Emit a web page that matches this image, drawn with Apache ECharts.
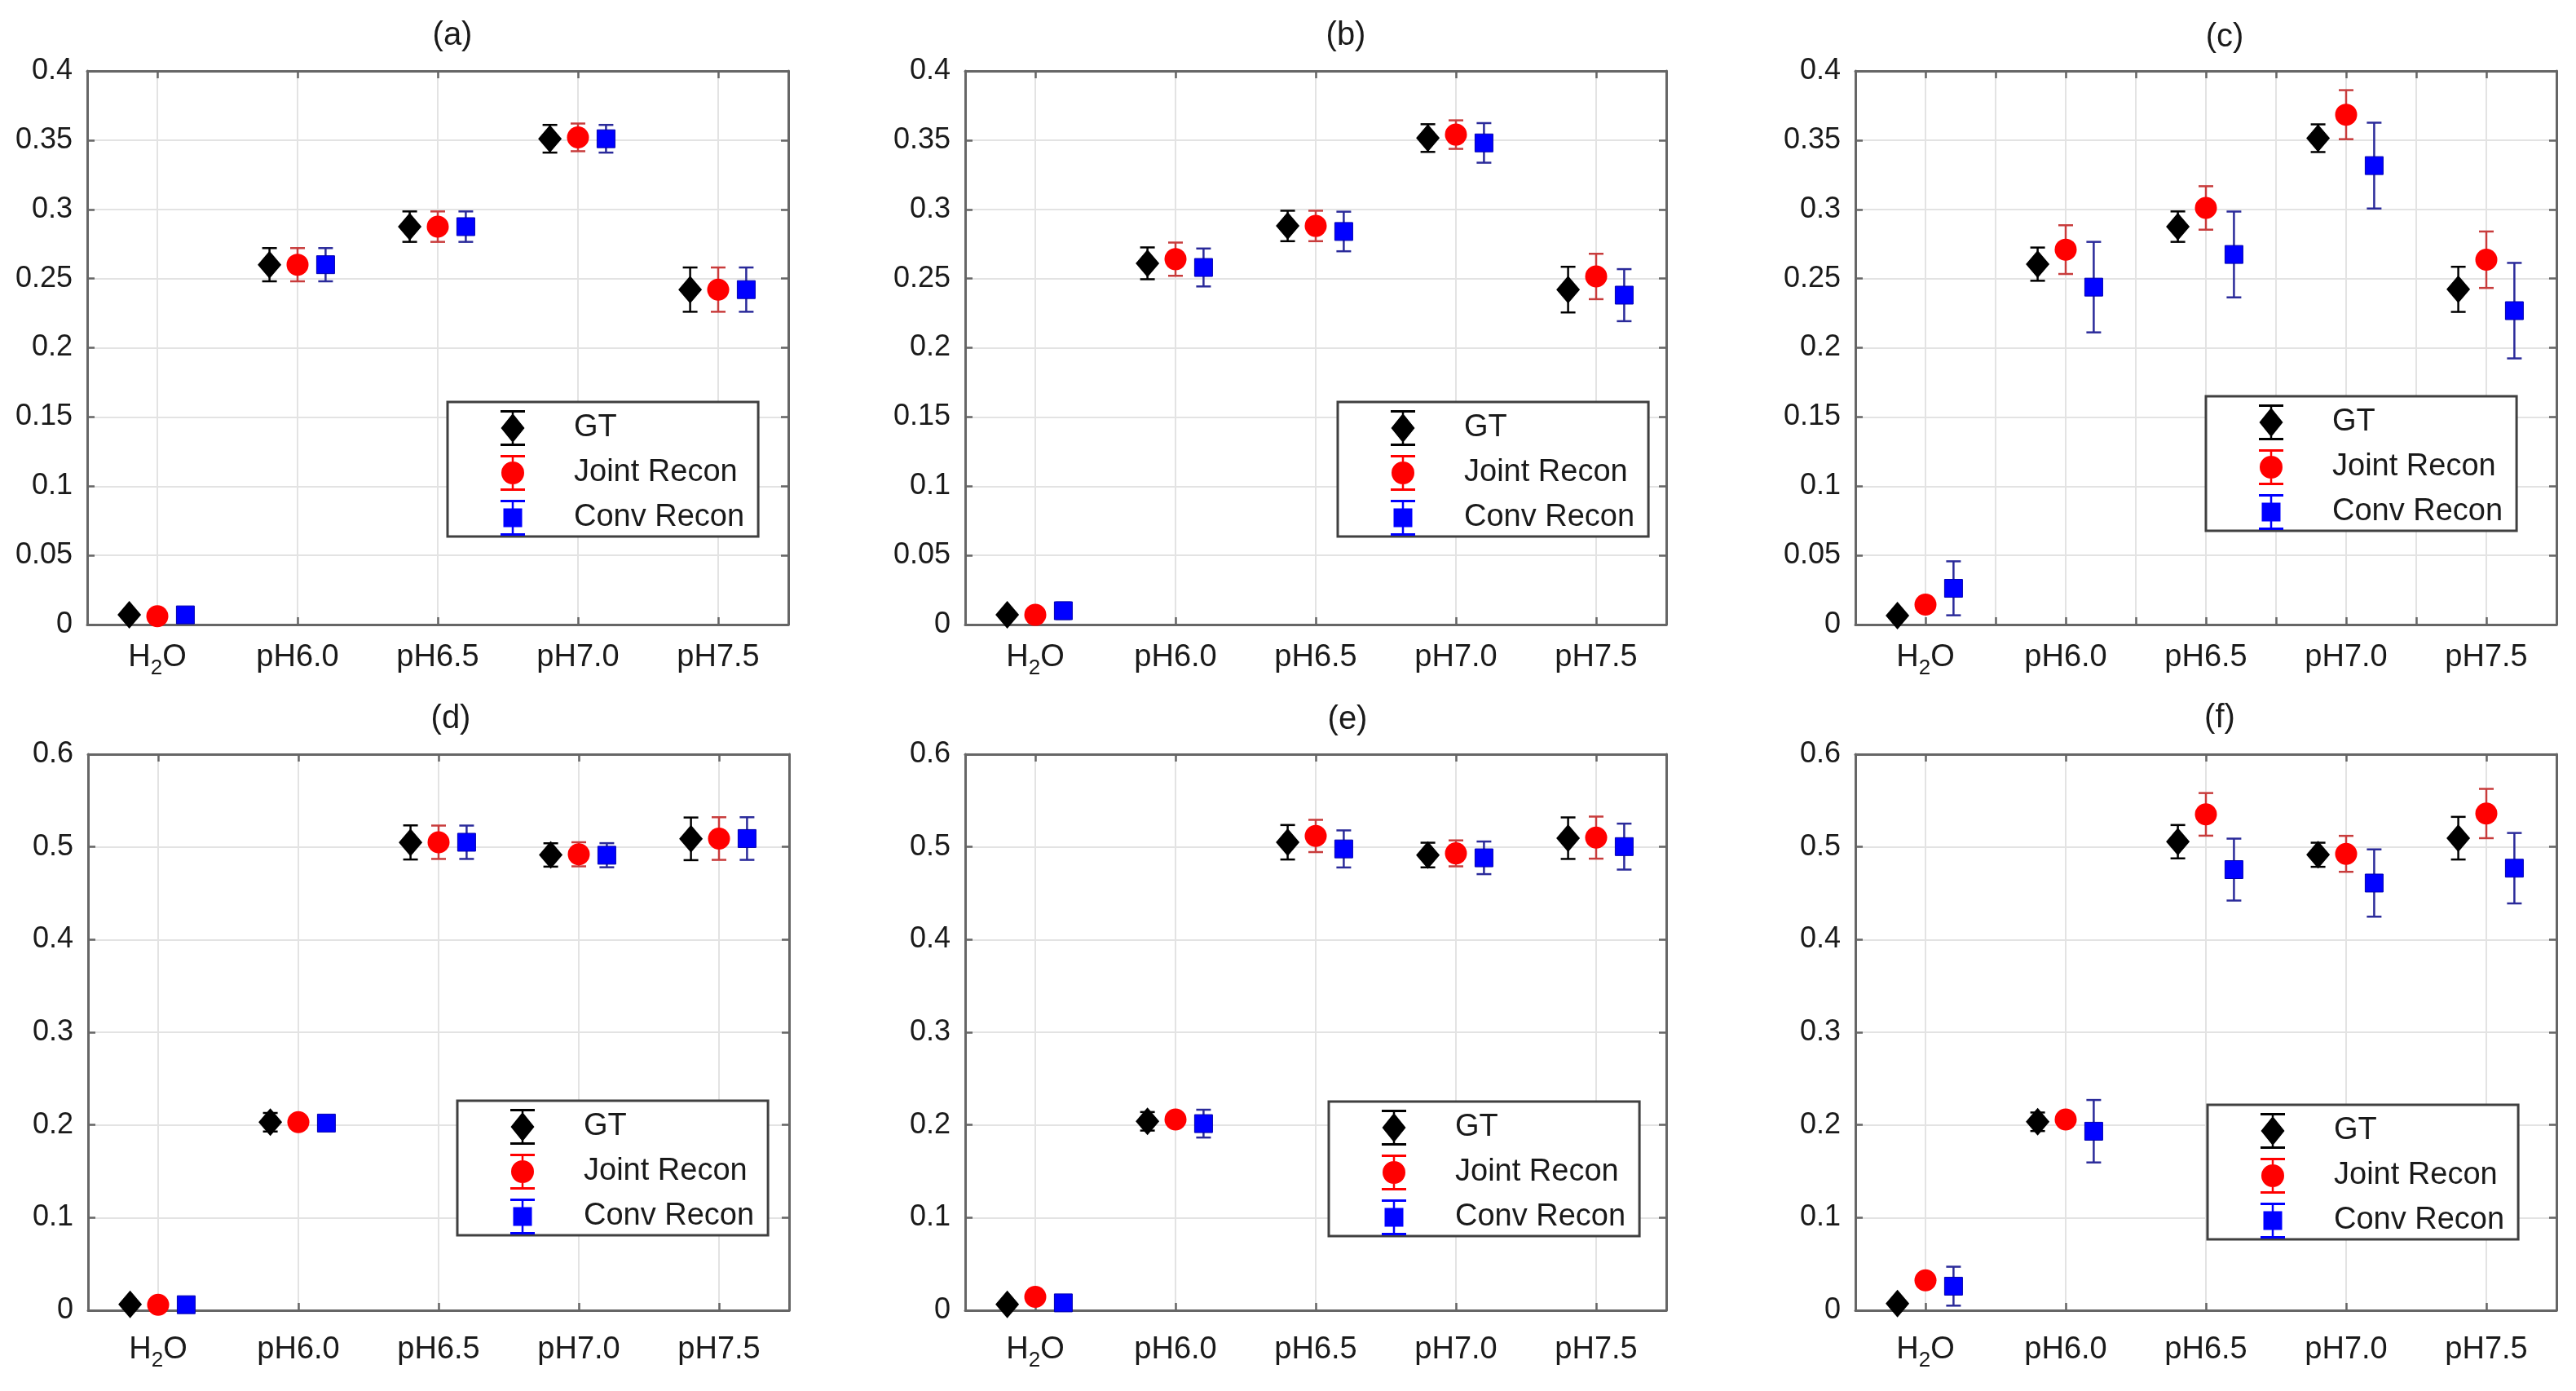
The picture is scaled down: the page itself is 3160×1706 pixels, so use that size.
<!DOCTYPE html>
<html>
<head>
<meta charset="utf-8">
<script src="https://cdn.jsdelivr.net/npm/echarts@6/dist/echarts.min.js"></script>
<style>html,body{margin:0;padding:0;background:#fff}#c{width:3160px;height:1706px}</style>
</head>
<body>
<div id="c"></div>
<script>
// ---------- data ----------
const categories = ['H2O', 'pH6.0', 'pH6.5', 'pH7.0', 'pH7.5'];
const seriesNames = ['GT', 'Joint Recon', 'Conv Recon'];
const panelTitles = ['(a)', '(b)', '(c)', '(d)', '(e)', '(f)'];
const yTicksTop = [0, 0.05, 0.1, 0.15, 0.2, 0.25, 0.3, 0.35, 0.4];
const yTicksBottom = [0, 0.1, 0.2, 0.3, 0.4, 0.5, 0.6];

// (a)
const gtA = [0.007, 0.260, 0.2875, 0.351, 0.242];
const gtAErr = [0.002, 0.012, 0.011, 0.010, 0.016];
const jrA = [0.006, 0.260, 0.2875, 0.352, 0.242];
const jrAErr = [0.002, 0.012, 0.011, 0.010, 0.016];
const cvA = [0.007, 0.260, 0.2875, 0.351, 0.242];
const cvAErr = [0.002, 0.012, 0.011, 0.010, 0.016];
// (b)
const gtB = [0.007, 0.261, 0.288, 0.3515, 0.242];
const gtBErr = [0.002, 0.0115, 0.011, 0.010, 0.0165];
const jrB = [0.007, 0.264, 0.288, 0.354, 0.2515];
const jrBErr = [0.002, 0.012, 0.011, 0.0103, 0.0164];
const cvB = [0.010, 0.258, 0.284, 0.348, 0.238];
const cvBErr = [0.006, 0.0137, 0.0143, 0.0143, 0.0188];
// (c)
const gtC = [0.0065, 0.2604, 0.2875, 0.3514, 0.2422];
const gtCErr = [0.002, 0.012, 0.011, 0.010, 0.0163];
const jrC = [0.0144, 0.2709, 0.301, 0.3684, 0.2636];
const jrCErr = [0.003, 0.0176, 0.0157, 0.0177, 0.0204];
const cvC = [0.0262, 0.2438, 0.2674, 0.3316, 0.2268];
const cvCErr = [0.0195, 0.0327, 0.031, 0.031, 0.0345];
// (d)
const gtD = [0.0063, 0.2029, 0.5048, 0.4913, 0.5087];
const gtDErr = [0.003, 0.010, 0.0184, 0.0126, 0.023];
const jrD = [0.006, 0.203, 0.505, 0.492, 0.509];
const jrDErr = [0.002, 0.004, 0.018, 0.013, 0.023];
const cvD = [0.006, 0.202, 0.505, 0.491, 0.509];
const cvDErr = [0.002, 0.004, 0.018, 0.013, 0.023];
// (e)
const gtE = [0.0063, 0.2039, 0.505, 0.4912, 0.5094];
const gtEErr = [0.003, 0.010, 0.0186, 0.0133, 0.0224];
const jrE = [0.0145, 0.2058, 0.5118, 0.4930, 0.5100];
const jrEErr = [0.003, 0.006, 0.0174, 0.014, 0.0227];
const cvE = [0.008, 0.2014, 0.4978, 0.4882, 0.5003];
const cvEErr = [0.003, 0.015, 0.020, 0.0176, 0.0248];
// (f)
const gtF = [0.0073, 0.2034, 0.5056, 0.4915, 0.5094];
const gtFErr = [0.003, 0.010, 0.018, 0.013, 0.023];
const jrF = [0.0324, 0.2058, 0.5351, 0.4925, 0.536];
const jrFErr = [0.004, 0.006, 0.023, 0.0194, 0.0266];
const cvF = [0.026, 0.1932, 0.4755, 0.461, 0.477];
const cvFErr = [0.021, 0.0337, 0.0334, 0.0363, 0.038];

// ---------- layout / style ----------
const FONT = "'Liberation Sans', Arial, Helvetica, sans-serif";
const TXT = '#1a1a1a';
const BORDER = '#666666';
const GRIDC = '#e3e3e3';
const gridSlots = ['s0','s1','s2','s3','s4','s5','s6','s7','s8','s9'];

const panels = [
  {vals:[gtA,jrA,cvA], errs:[gtAErr,jrAErr,cvAErr], left:107, top:87, height:679, ticks:yTicksTop, leg:[549,493], title:[555,44], half:false, lm:15},
  {vals:[gtB,jrB,cvB], errs:[gtBErr,jrBErr,cvBErr], left:1184, top:87, height:679, ticks:yTicksTop, leg:[1641,493], title:[1651,44], half:false, lm:15},
  {vals:[gtC,jrC,cvC], errs:[gtCErr,jrCErr,cvCErr], left:2276, top:87, height:679, ticks:yTicksTop, leg:[2706,486], title:[2729,46], half:true, lm:15},
  {vals:[gtD,jrD,cvD], errs:[gtDErr,jrDErr,cvDErr], left:108, top:925, height:682, ticks:yTicksBottom, leg:[561,1350], title:[553,882], half:false, lm:23},
  {vals:[gtE,jrE,cvE], errs:[gtEErr,jrEErr,cvEErr], left:1184, top:925, height:682, ticks:yTicksBottom, leg:[1630,1351], title:[1653,883], half:false, lm:23},
  {vals:[gtF,jrF,cvF], errs:[gtFErr,jrFErr,cvFErr], left:2276, top:925, height:682, ticks:yTicksBottom, leg:[2708,1355], title:[2723,881], half:false, lm:23}
];
const PW = 860;

const styles = [
  {kind:'diamond', off:-0.2, fill:'#000000', bar:'#000000'},
  {kind:'circle', off:0, fill:'#ff0000', bar:'#c83c3c'},
  {kind:'square', off:0.2, fill:'#0000ff', bar:'#2a2a9a'}
];

const CAPS = 'M0,0H30V3H0Z M13.75,3H16.25V41H13.75Z M0,41H30V44H0Z ';
const icons = [
  'path://' + CAPS + 'M15,4L29.5,22L15,40L0.5,22Z',
  'path://' + CAPS + 'M1,22A14,14 0 1 1 29,22A14,14 0 1 1 1,22Z',
  'path://' + CAPS + 'M3.5,10.5H26.5V33.5H3.5Z'
];

function makeRender(st) {
  return function (params, api) {
    const xi = api.value(0), v = api.value(1), e = api.value(2);
    const p = api.coord([xi, v]);
    const bw = api.size([1, 0])[0];
    const x = p[0] + st.off * bw;
    const yT = api.coord([xi, v + e])[1];
    const yB = api.coord([xi, v - e])[1];
    const cap = 9;
    const ls = {stroke: st.bar, lineWidth: 2.5};
    const ch = [
      {type:'line', shape:{x1:x, y1:yT, x2:x, y2:yB}, style:ls},
      {type:'line', shape:{x1:x-cap, y1:yT, x2:x+cap, y2:yT}, style:ls},
      {type:'line', shape:{x1:x-cap, y1:yB, x2:x+cap, y2:yB}, style:ls}
    ];
    const cy = p[1];
    if (st.kind === 'diamond') {
      ch.push({type:'polygon', shape:{points:[[x, cy-17],[x+14.5, cy],[x, cy+17],[x-14.5, cy]]}, style:{fill:st.fill}});
    } else if (st.kind === 'circle') {
      ch.push({type:'circle', shape:{cx:x, cy:cy, r:13.5}, style:{fill:st.fill}});
    } else {
      ch.push({type:'rect', shape:{x:x-11, y:cy-11, width:22, height:22}, style:{fill:st.fill, stroke:'#0000b0', lineWidth:1}});
    }
    return {type:'group', children:ch};
  };
}

const grid = [], xAxis = [], yAxis = [], series = [], legend = [], title = [];

panels.forEach((P, i) => {
  grid.push({left:P.left, top:P.top, width:PW, height:P.height, show:false, containLabel:false});
  const lineFn = P.half ? (idx) => idx > 0 : (idx) => idx % 2 === 1;
  const tickStyle = {color: BORDER, width: 2.5};
  // main category axis (labels + bottom border)
  xAxis.push({
    type:'category', gridIndex:i, data:categories, position:'bottom', boundaryGap:true, z:1,
    axisLine:{show:true, onZero:false, lineStyle:{color:BORDER, width:3}},
    axisTick:{show:false}, splitLine:{show:false},
    axisLabel:{
      interval:0, margin:P.lm,
      formatter: (v) => v === 'H2O' ? '{n|H}{s|2}{n|O}' : '{n|' + v + '}',
      rich:{
        n:{fontSize:38, lineHeight:52, color:TXT, fontFamily:FONT},
        s:{fontSize:26, lineHeight:26, padding:[26,0,0,0], color:TXT, fontFamily:FONT}
      }
    }
  });
  // grid-line / bottom tick helper axis
  xAxis.push({
    type:'category', gridIndex:i, data:gridSlots, position:'bottom', boundaryGap:true, z:0,
    axisLine:{show:false}, axisLabel:{show:false},
    axisTick:{show:true, inside:true, length:9, interval:lineFn, lineStyle:tickStyle},
    splitLine:{show:true, interval:lineFn, lineStyle:{color:GRIDC, width:2}}
  });
  // top border with ticks
  xAxis.push({
    type:'category', gridIndex:i, data:gridSlots, position:'top', boundaryGap:true, z:1,
    axisLine:{show:true, onZero:false, lineStyle:{color:BORDER, width:3}}, axisLabel:{show:false},
    axisTick:{show:true, inside:true, length:9, interval:lineFn, lineStyle:tickStyle},
    splitLine:{show:false}
  });
  const t = P.ticks;
  const yMin = t[0], yMax = t[t.length-1], yInt = t[1] - t[0];
  yAxis.push({
    type:'value', gridIndex:i, min:yMin, max:yMax, interval:yInt, position:'left', z:1,
    axisLine:{show:true, onZero:false, lineStyle:{color:BORDER, width:3}},
    axisTick:{show:true, inside:true, length:9, lineStyle:tickStyle},
    splitLine:{show:true, showMinLine:false, showMaxLine:false, lineStyle:{color:GRIDC, width:2}},
    axisLabel:{fontSize:36, margin:18, color:TXT, fontFamily:FONT}
  });
  yAxis.push({
    type:'value', gridIndex:i, min:yMin, max:yMax, interval:yInt, position:'right', z:1,
    axisLine:{show:true, onZero:false, lineStyle:{color:BORDER, width:3}},
    axisTick:{show:true, inside:true, length:9, lineStyle:tickStyle},
    splitLine:{show:false}, axisLabel:{show:false}
  });
  styles.forEach((st, k) => {
    series.push({
      type:'custom', name:seriesNames[k], xAxisIndex:3*i, yAxisIndex:2*i, z:2,
      itemStyle:{color:st.fill},
      encode:{x:0, y:1},
      renderItem:makeRender(st),
      data:P.vals[k].map((v, j) => [j, v, P.errs[k][j]])
    });
  });
  legend.push({
    left:P.leg[0], top:P.leg[1], orient:'vertical',
    itemWidth:140, itemHeight:44, itemGap:11, symbolKeepAspect:true,
    padding:[10,17,1,65], borderColor:'#404040', borderWidth:3, backgroundColor:'#ffffff',
    selectedMode:false,
    textStyle:{fontSize:38, color:TXT, fontFamily:FONT},
    data:seriesNames.map((n, k) => ({name:n, icon:icons[k]}))
  });
  title.push({
    text:panelTitles[i], left:P.title[0], top:P.title[1], padding:0,
    textAlign:'center', textVerticalAlign:'middle',
    textStyle:{fontSize:40, fontWeight:'normal', color:TXT, fontFamily:FONT}
  });
});

const chart = echarts.init(document.getElementById('c'), null, {renderer:'canvas'});
chart.setOption({
  animation:false,
  backgroundColor:'#ffffff',
  title, grid, xAxis, yAxis, legend, series
});
</script>
</body>
</html>
